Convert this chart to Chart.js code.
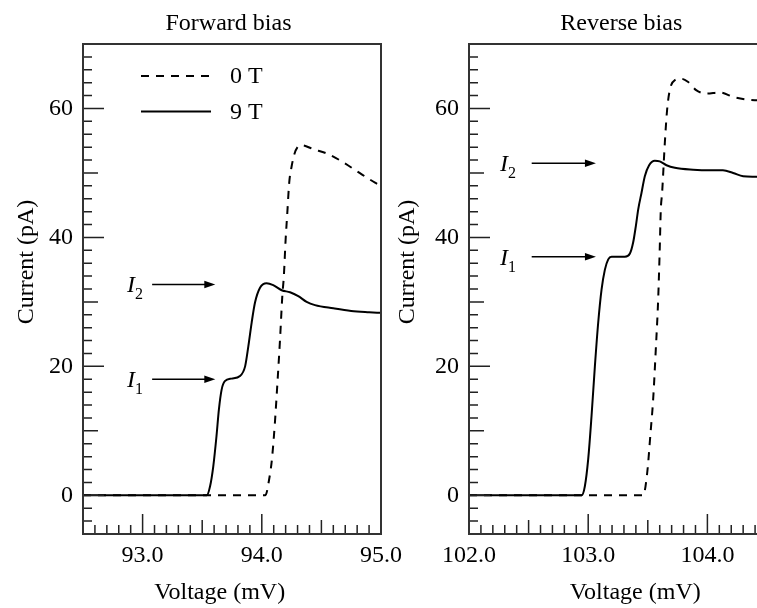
<!DOCTYPE html>
<html>
<head>
<meta charset="utf-8">
<script src="https://cdn.jsdelivr.net/npm/chart.js@4/dist/chart.umd.min.js"></script>
<style>
  html, body { margin: 0; padding: 0; background: #fff; overflow: hidden; width: 757px; height: 608px; }
  .panel { position: absolute; top: 0; }
  #panelF { left: 0; }
  #panelR { left: 380px; }
</style>
</head>
<body>
<div class="panel" id="panelF"><canvas id="fwd" width="410" height="608"></canvas></div>
<div class="panel" id="panelR"><canvas id="rev" width="400" height="608"></canvas></div>
<script>
// ---- Forward bias: voltage (mV) and current (pA) ----
const fwdVolt0T = [92.5, 94.03, 94.06, 94.085, 94.11, 94.133, 94.153, 94.172, 94.185, 94.20, 94.214, 94.23, 94.25, 94.273, 94.30, 94.335, 94.43, 94.56, 94.67, 94.82, 94.95, 95.0];
const fwdCurr0T = [0, 0, 2.3, 5.6, 11.3, 18.0, 24.2, 30.9, 34.0, 39.7, 43.8, 48.5, 51.0, 52.9, 54.0, 54.3, 53.7, 52.9, 51.8, 50.0, 48.5, 48.0];
const fwdVolt9T = [92.5, 93.538, 93.566, 93.593, 93.62, 93.64, 93.663, 93.69, 93.747, 93.817, 93.86, 93.887, 93.915, 93.943, 93.985, 94.04, 94.096, 94.167, 94.237, 94.306, 94.376, 94.446, 94.6, 94.75, 94.9, 95.0];
const fwdCurr9T = [0, 0, 1.4, 4.5, 9.2, 13.3, 16.4, 17.7, 18.1, 18.5, 20.0, 23.1, 26.8, 29.9, 32.2, 32.9, 32.6, 31.8, 31.5, 30.9, 30.0, 29.5, 29.0, 28.6, 28.4, 28.3];

// ---- Reverse bias ----
const revVolt0T = [102.0, 103.461, 103.495, 103.523, 103.545, 103.567, 103.587, 103.60, 103.609, 103.62, 103.643, 103.662, 103.685, 103.727, 103.783, 103.839, 103.909, 103.992, 104.104, 104.216, 104.328, 104.5];
const revCurr0T = [0, 0, 3.5, 9.7, 14.9, 22.6, 30.4, 38.1, 44.3, 46.9, 54.7, 59.8, 62.9, 64.4, 64.6, 64.1, 62.8, 62.3, 62.5, 61.8, 61.4, 61.2];
const revVolt9T = [102.0, 102.945, 102.972, 103.0, 103.028, 103.056, 103.084, 103.112, 103.14, 103.168, 103.196, 103.252, 103.308, 103.35, 103.377, 103.4, 103.42, 103.447, 103.475, 103.511, 103.559, 103.6, 103.657, 103.727, 103.88, 104.02, 104.13, 104.216, 104.3, 104.41, 104.5];
const revCurr9T = [0, 0, 1.4, 5.6, 12.3, 20.0, 26.8, 31.9, 35.0, 36.6, 37.0, 37.0, 37.0, 37.5, 39.2, 41.8, 44.4, 46.9, 49.5, 51.2, 51.9, 51.8, 51.2, 50.8, 50.5, 50.4, 50.4, 50.0, 49.5, 49.4, 49.3];

// ---- Axis ticks and labels ----
const currentTicks = [0, 20, 40, 60];
const fwdVoltTicks = [93.0, 94.0, 95.0];
const revVoltTicks = [102.0, 103.0, 104.0];
const seriesNames = ['0 T', '9 T'];
const panelTitles = ['Forward bias', 'Reverse bias'];
const xAxisTitle = 'Voltage (mV)';
const yAxisTitle = 'Current (pA)';

// Step levels marked with arrows (pA)
const fwdSteps = { I1: 18.0, I2: 32.7 };
const revSteps = { I1: 37.0, I2: 51.5 };

const FONT = '"Liberation Serif", "Times New Roman", serif';
const INK = '#000';
const FS = 24;

function pts(xs, ys) { return xs.map((v, i) => ({ x: v, y: ys[i] })); }

// Inward ticks, frame, titles, legend and step arrows
const framePlugin = {
  id: 'frame',
  afterDatasetsDraw(chart, args, opts) {
    const { ctx, chartArea: a, scales: { x, y } } = chart;
    ctx.save();
    ctx.strokeStyle = '#222';
    ctx.lineWidth = 1.5;
    ctx.beginPath();
    for (let v = y.min + 2; v < y.max; v += 2) {
      const len = v % 20 === 0 ? 21 : (v % 10 === 0 ? 15 : 9);
      const py = y.getPixelForValue(v);
      ctx.moveTo(a.left, py); ctx.lineTo(a.left + len, py);
    }
    const k0 = Math.round(x.min * 10) + 1, k1 = Math.round(x.max * 10) - 1;
    for (let k = k0; k <= k1; k++) {
      const len = k % 10 === 0 ? 20 : (k % 5 === 0 ? 14 : 9);
      const px = x.getPixelForValue(k / 10);
      ctx.moveTo(px, a.bottom); ctx.lineTo(px, a.bottom - len);
    }
    ctx.stroke();
    ctx.lineWidth = 2;
    ctx.strokeStyle = '#333';
    ctx.strokeRect(a.left, a.top, a.right - a.left, a.bottom - a.top);

    // titles
    const t = opts.text;
    ctx.fillStyle = INK;
    ctx.font = FS + 'px ' + FONT;
    ctx.textAlign = 'center';
    ctx.textBaseline = 'alphabetic';
    ctx.fillText(t.title, a.left + t.titleDx, a.top - 14);
    ctx.textBaseline = 'middle';
    ctx.fillText(xAxisTitle, a.left + t.xTitleDx, a.bottom + 58.5);
    ctx.save();
    ctx.translate(a.left + t.yTitleDx, a.top + 218);
    ctx.rotate(-Math.PI / 2);
    ctx.fillText(yAxisTitle, 0, 0);
    ctx.restore();

    // legend
    if (opts.legend) {
      ctx.strokeStyle = INK;
      ctx.fillStyle = INK;
      ctx.lineWidth = 2;
      ctx.font = FS + 'px ' + FONT;
      ctx.textBaseline = 'middle';
      ctx.textAlign = 'left';
      opts.legend.forEach((item, i) => {
        const ly = a.top + 32 + i * 35.5;
        ctx.setLineDash(item.dash);
        ctx.beginPath();
        ctx.moveTo(a.left + 58, ly); ctx.lineTo(a.left + 128, ly);
        ctx.stroke();
        ctx.setLineDash([]);
        ctx.fillText(item.text, a.left + 147, ly + 1);
      });
    }

    // step arrows
    (opts.arrows || []).forEach(ar => {
      const ay = y.getPixelForValue(ar.level);
      const xs = x.getPixelForValue(ar.from), xe = x.getPixelForValue(ar.to);
      const xt = x.getPixelForValue(ar.textAt);
      ctx.strokeStyle = INK; ctx.fillStyle = INK; ctx.lineWidth = 1.5;
      ctx.beginPath(); ctx.moveTo(xs, ay); ctx.lineTo(xe - 8, ay); ctx.stroke();
      ctx.beginPath(); ctx.moveTo(xe, ay); ctx.lineTo(xe - 11, ay - 3.8); ctx.lineTo(xe - 11, ay + 3.8); ctx.closePath(); ctx.fill();
      ctx.textAlign = 'left'; ctx.textBaseline = 'alphabetic';
      ctx.font = 'italic ' + FS + 'px ' + FONT;
      ctx.fillText('I', xt, ay + 8);
      const w = ctx.measureText('I').width;
      ctx.font = '16px ' + FONT;
      ctx.fillText(ar.sub, xt + w, ay + 15);
    });
    ctx.restore();
  }
};

function makePanel(id, xMin, xMax, xTicks, sets, yAxisWidth, padRight, extra) {
  const font = { family: FONT, size: FS, weight: 'normal' };
  return new Chart(document.getElementById(id), {
    type: 'line',
    data: {
      datasets: sets.map(s => ({
        label: s.label,
        data: s.data,
        borderColor: INK,
        borderWidth: 2,
        borderDash: s.dash,
        pointRadius: 0,
        fill: false,
        cubicInterpolationMode: 'monotone'
      }))
    },
    options: {
      responsive: false,
      animation: false,
      events: [],
      layout: { padding: { left: 0, right: padRight, top: 44, bottom: 0 } },
      plugins: {
        legend: { display: false },
        tooltip: { enabled: false },
        title: { display: false },
        frame: extra
      },
      scales: {
        x: {
          type: 'linear', min: xMin, max: xMax,
          afterBuildTicks: s => { s.ticks = xTicks.map(v => ({ value: v })); },
          afterFit: s => { s.height = 74; },
          ticks: { font, color: INK, padding: 7, maxRotation: 0, autoSkip: false, callback: v => v.toFixed(1) },
          grid: { display: false, drawTicks: false },
          border: { display: false },
          title: { display: false }
        },
        y: {
          type: 'linear', min: -6, max: 70,
          afterBuildTicks: s => { s.ticks = currentTicks.map(v => ({ value: v })); },
          afterFit: s => { s.width = yAxisWidth; },
          ticks: { font, color: INK, padding: 10 },
          grid: { display: false, drawTicks: false },
          border: { display: false },
          title: { display: false }
        }
      }
    },
    plugins: [framePlugin]
  });
}

makePanel('fwd', 92.5, 95.0, fwdVoltTicks, [
  { label: seriesNames[0], data: pts(fwdVolt0T, fwdCurr0T), dash: [8, 7] },
  { label: seriesNames[1], data: pts(fwdVolt9T, fwdCurr9T), dash: [] }
], 83, 29, {
  text: { title: panelTitles[0], titleDx: 145.5, xTitleDx: 136.7, yTitleDx: -56 },
  legend: [{ text: seriesNames[0], dash: [8, 7] }, { text: seriesNames[1], dash: [] }],
  arrows: [
    { sub: '2', level: fwdSteps.I2, from: 93.08, to: 93.61, textAt: 92.87 },
    { sub: '1', level: fwdSteps.I1, from: 93.08, to: 93.61, textAt: 92.87 }
  ]
});

makePanel('rev', 102.0, 104.5, revVoltTicks, [
  { label: seriesNames[0], data: pts(revVolt0T, revCurr0T), dash: [8, 7] },
  { label: seriesNames[1], data: pts(revVolt9T, revCurr9T), dash: [] }
], 89, 13, {
  text: { title: panelTitles[1], titleDx: 152.3, xTitleDx: 166.3, yTitleDx: -61.5 },
  arrows: [
    { sub: '2', level: revSteps.I2, from: 102.526, to: 103.065, textAt: 102.26 },
    { sub: '1', level: revSteps.I1, from: 102.526, to: 103.065, textAt: 102.26 }
  ]
});
</script>
</body>
</html>
